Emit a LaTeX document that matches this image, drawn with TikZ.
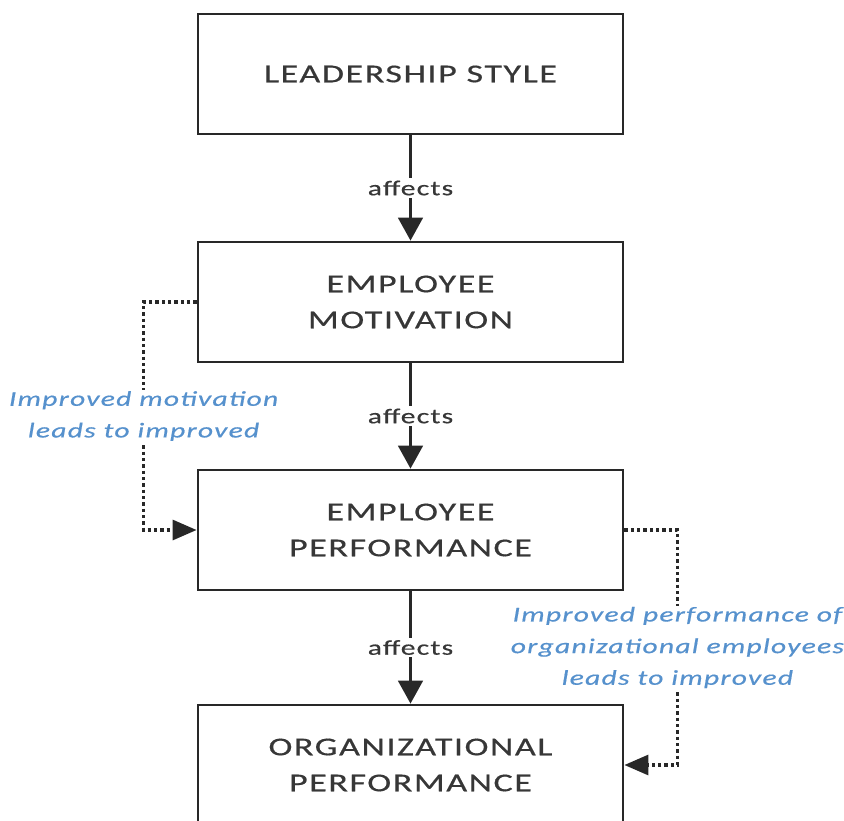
\documentclass[tikz,border=0pt]{standalone}
\usepackage{fontspec}
\setmainfont{Carlito}[FakeStretch=1.4,LetterSpace=6,FakeBold=0.5]
\usetikzlibrary{arrows.meta}

\definecolor{boxline}{RGB}{40,40,40}
\definecolor{boxtext}{RGB}{55,55,55}
\definecolor{noteblue}{RGB}{86,145,205}

\tikzset{
	box/.style={draw=boxline, line width=2.4pt, minimum width=12.75cm, minimum height=3.6cm,
		align=center, text=boxtext, font=\fontsize{22}{30.7}\selectfont},
	flow/.style={draw=boxline, line width=2.4pt, -{Triangle[length=0.69cm,width=0.74cm]}},
	verb/.style={fill=white, text=boxtext, font=\fontsize{18}{20}\selectfont, inner sep=2pt},
	link/.style={draw=boxline, line width=2.6pt, dash pattern=on 0.1cm off 0.09cm,
		-{Triangle[length=0.72cm,width=0.6cm]}},
	note/.style={fill=white, text=noteblue, align=center, inner sep=1pt,
		font=\fontsize{18}{27}\itshape\selectfont}
}

\begin{document}
\begin{tikzpicture}[x=0.03cm,y=-0.03cm]
\useasboundingbox (0,0) rectangle (844,821);

\path (410.5,74) node[box] (ls) {LEADERSHIP STYLE}
		(410.5,302) node[box] (em) {EMPLOYEE\\MOTIVATION}
		(410.5,530) node[box] (ep) {EMPLOYEE\\PERFORMANCE}
		(410.5,765) node[box] (op) {ORGANIZATIONAL\\PERFORMANCE}
		;

% main chain
\draw[flow] (ls) -- node[verb] {affects} (em);
\draw[flow] (em) -- node[verb] {affects} (ep);
\draw[flow] (ep) -- node[verb] {affects} (op);

% side loops
\draw[link] (em.west) -- ++(-53,0) |- node[note,pos=0.25] {Improved motivation\\leads to improved} (ep.west);
\draw[link] (ep.east) -- ++(53,0) |- node[note,pos=0.25] {Improved performance of\\organizational employees\\leads to improved} (op.east);
\end{tikzpicture}
\end{document}
